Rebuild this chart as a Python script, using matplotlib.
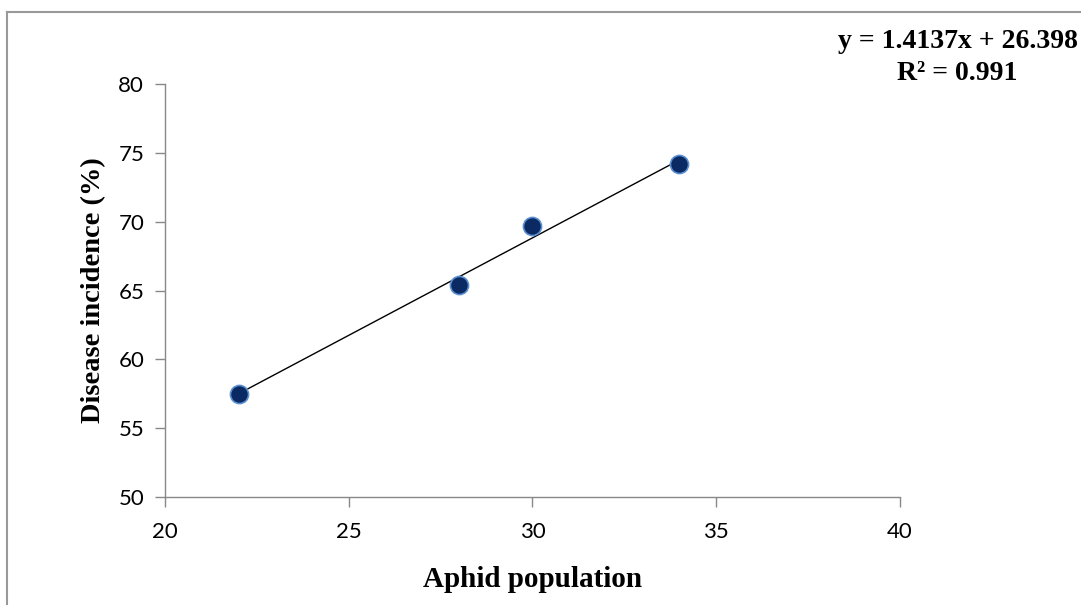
import matplotlib.pyplot as plt
import numpy as np
from matplotlib.lines import Line2D

# data
aphid = [22, 28, 30, 34]
incidence = [57.5, 65.4, 69.7, 74.2]
x_ticks = [20, 25, 30, 35, 40]
y_ticks = [50, 55, 60, 65, 70, 75, 80]

W, H = 1081, 605
fig = plt.figure(figsize=(W / 100, H / 100), dpi=100)
ax = fig.add_axes([165 / W, 1 - 497 / H, (900 - 165) / W, (497 - 84) / H])

# trend line from least squares
slope, intercept = np.polyfit(aphid, incidence, 1)
xl = np.array([min(aphid), max(aphid)])
ax.plot(xl, slope * xl + intercept, color='black', lw=1.0, zorder=2)

ax.scatter(aphid, incidence, s=170, color='#0b2a63', edgecolor='#5b8fd0',
           linewidth=1.2, zorder=3)

ax.set_xlim(20, 40)
ax.set_ylim(50, 80)
ax.set_xticks(x_ticks)
ax.set_yticks(y_ticks)

for s in ['top', 'right']:
    ax.spines[s].set_visible(False)
for s in ['left', 'bottom']:
    ax.spines[s].set_color('#888888')
    ax.spines[s].set_linewidth(1.0)
ax.tick_params(direction='out', length=7, color='#888888', width=1.0,
               labelsize=16, pad=8)
ax.tick_params(axis='x', pad=11)
for lab in ax.get_xticklabels() + ax.get_yticklabels():
    lab.set_family('Lato')

ax.set_xlabel('Aphid population', family='Liberation Serif', fontweight='bold',
              fontsize=21, labelpad=17)
ax.set_ylabel('Disease incidence (%)', family='Liberation Serif', fontweight='bold',
              fontsize=20.5, labelpad=9)

fig.text(958 / W, 1 - 41 / H, 'y = 1.4137x + 26.398', family='Liberation Serif',
         fontweight='bold', fontsize=20, ha='center', va='center')
fig.text(957 / W, 1 - 73 / H, 'R² = 0.991', family='Liberation Serif',
         fontweight='bold', fontsize=20, ha='center', va='center')

# outer chart frame
fx = 7.5 / W
fy = 1 - 11.5 / H
fig.add_artist(Line2D([fx, fx], [fy, -0.1], transform=fig.transFigure,
                      color='#999999', lw=1.5))
fig.add_artist(Line2D([fx, 1.1], [fy, fy], transform=fig.transFigure,
                      color='#999999', lw=1.5))

fig.savefig('out.png', dpi=100)
